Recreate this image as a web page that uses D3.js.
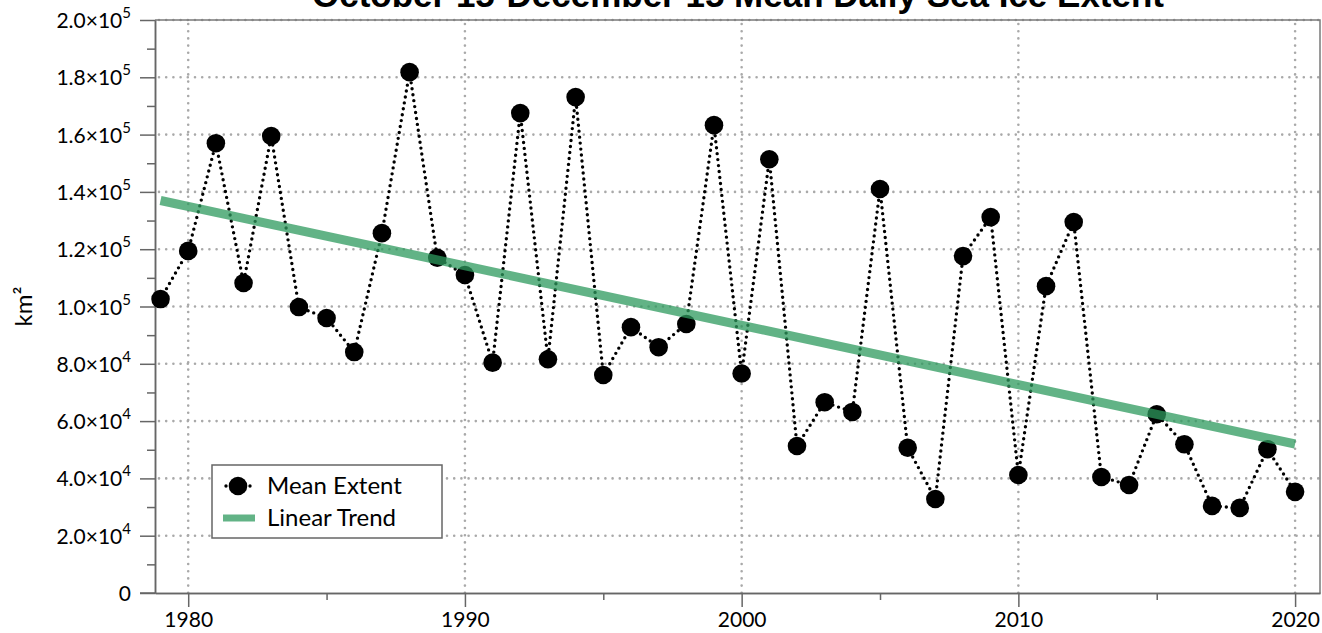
<!DOCTYPE html>
<html>
<head>
<meta charset="utf-8">
<script src="https://cdn.jsdelivr.net/npm/d3@7"></script>
<style>
    html, body { margin: 0; padding: 0; background: #ffffff; }
    svg { display: block; }
</style>
</head>
<body>
<div id="chart"></div>
<script>
const years = [
    1979, 1980, 1981, 1982, 1983, 1984, 1985, 1986, 1987, 1988,
    1989, 1990, 1991, 1992, 1993, 1994, 1995, 1996, 1997, 1998,
    1999, 2000, 2001, 2002, 2003, 2004, 2005, 2006, 2007, 2008,
    2009, 2010, 2011, 2012, 2013, 2014, 2015, 2016, 2017, 2018,
    2019, 2020,
]
const meanExtent = [
    102600, 119400, 157000, 108200, 159500, 99800, 96000, 84100, 125600, 181800,
    117000, 111000, 80400, 167500, 81600, 173100, 76100, 92800, 85800, 93900,
    163300, 76600, 151400, 51300, 66600, 63200, 141000, 50700, 32800, 117600,
    131200, 41200, 107100, 129500, 40500, 37700, 62400, 51900, 30400, 29700,
    50200, 35300,
]
const trendYears = [1979, 2020]
const trendValues = [137000, 52000]
const yTicks = [0, 20000, 40000, 60000, 80000, 100000, 120000, 140000, 160000, 180000, 200000]
const yMinorTicks = [10000, 30000, 50000, 70000, 90000, 110000, 130000, 150000, 170000, 190000]
const xTicks = [1980, 1990, 2000, 2010, 2020]
const xMinorTicks = [1985, 1995, 2005, 2015]
const legendLabels = ['Mean Extent', 'Linear Trend']
const titleText = 'October 15-December 15 Mean Daily Sea Ice Extent'
const yLabel = 'km²'

const WIDTH = 1322
const HEIGHT = 633
const MARGIN = { TOP: 20, RIGHT: 2, BOTTOM: 40, LEFT: 155 }
const LABEL_FONT = 'Lato, "Open Sans", sans-serif'
const TREND_COLOR = '#2e9a5e'
const AXIS_COLOR = '#666'

const svg = d3.select('#chart')
    .append('svg')
    .attr('width', WIDTH)
    .attr('height', HEIGHT)

const x = d3.scaleLinear()
    .domain([1978.8, 2020.9])
    .range([MARGIN.LEFT, WIDTH - MARGIN.RIGHT])

const y = d3.scaleLinear()
    .domain([0, 200000])
    .range([HEIGHT - MARGIN.BOTTOM, MARGIN.TOP])

// dotted grid
const grid = svg.append('g')
    .attr('stroke', '#a9a9a9')
    .attr('stroke-width', 2.6)
    .attr('stroke-linecap', 'round')
    .attr('stroke-dasharray', '0 7.2')

grid.selectAll('.hgrid')
    .data(yTicks.filter((d) => d > 0))
    .join('line')
    .attr('x1', MARGIN.LEFT + 4)
    .attr('x2', WIDTH - MARGIN.RIGHT)
    .attr('y1', (d) => y(d))
    .attr('y2', (d) => y(d))

grid.selectAll('.vgrid')
    .data(xTicks)
    .join('line')
    .attr('x1', (d) => x(d))
    .attr('x2', (d) => x(d))
    .attr('y1', MARGIN.TOP + 4)
    .attr('y2', HEIGHT - MARGIN.BOTTOM)

// frame (top and right)
svg.append('path')
    .attr('d', `M${MARGIN.LEFT},${MARGIN.TOP}H${WIDTH - MARGIN.RIGHT}V${HEIGHT - MARGIN.BOTTOM}`)
    .attr('fill', 'none')
    .attr('stroke', '#7a7a7a')
    .attr('stroke-width', 1.5)

// axes
const formatSci = (sel) => {
    sel.each(function (d) {
        const text = d3.select(this).text('')
        if (d === 0) {
            text.append('tspan').text('0')
            return
        }
        const exp = Math.floor(Math.log10(d))
        const mant = (d / Math.pow(10, exp)).toFixed(1)
        text.append('tspan').text(`${mant}×10`)
        text.append('tspan')
            .attr('dy', -10)
            .style('font-size', '15px')
            .text(exp)
    })
}

const yAxis = svg.append('g')
    .attr('transform', `translate(${MARGIN.LEFT},0)`)
    .call(d3.axisLeft(y).tickValues(yTicks).tickSize(15).tickPadding(9).tickSizeOuter(0))

yAxis.selectAll('text')
    .style('font-family', LABEL_FONT)
    .style('font-size', '21px')
    .attr('fill', '#000')
    .attr('dy', '0.36em')
    .call(formatSci)

svg.append('g')
    .attr('transform', `translate(${MARGIN.LEFT},0)`)
    .call(d3.axisLeft(y).tickValues(yMinorTicks).tickSize(8).tickFormat('').tickSizeOuter(0))

const xAxis = svg.append('g')
    .attr('transform', `translate(0,${HEIGHT - MARGIN.BOTTOM})`)
    .call(d3.axisBottom(x).tickValues(xTicks).tickSize(14).tickPadding(5).tickSizeOuter(0).tickFormat(d3.format('d')))

xAxis.selectAll('text')
    .style('font-family', LABEL_FONT)
    .style('font-size', '21px')
    .attr('fill', '#000')

svg.append('g')
    .attr('transform', `translate(0,${HEIGHT - MARGIN.BOTTOM})`)
    .call(d3.axisBottom(x).tickValues(xMinorTicks).tickSize(7).tickFormat('').tickSizeOuter(0))

svg.selectAll('.domain').attr('stroke', AXIS_COLOR).attr('stroke-width', 1.5)
svg.selectAll('.tick line').attr('stroke', AXIS_COLOR).attr('stroke-width', 1.5)

// bottom axis line runs on under the zero tick
svg.append('line')
    .attr('x1', MARGIN.LEFT - 15)
    .attr('x2', MARGIN.LEFT)
    .attr('y1', y(0))
    .attr('y2', y(0))
    .attr('stroke', AXIS_COLOR)
    .attr('stroke-width', 1.5)

// data
const points = years.map((yr, i) => ({ year: yr, value: meanExtent[i] }))

const line = d3.line()
    .x((d) => x(d.year))
    .y((d) => y(d.value))

svg.append('path')
    .datum(points)
    .attr('d', line)
    .attr('fill', 'none')
    .attr('stroke', '#000')
    .attr('stroke-width', 3.4)
    .attr('stroke-linecap', 'round')
    .attr('stroke-dasharray', '0 6')

svg.append('g')
    .selectAll('circle')
    .data(points)
    .join('circle')
    .attr('cx', (d) => x(d.year))
    .attr('cy', (d) => y(d.value))
    .attr('r', 9.3)
    .attr('fill', '#000')

const trend = trendYears.map((yr, i) => ({ year: yr, value: trendValues[i] }))

svg.append('path')
    .datum(trend)
    .attr('d', line)
    .attr('fill', 'none')
    .attr('stroke', TREND_COLOR)
    .attr('stroke-opacity', 0.75)
    .attr('stroke-width', 9)

// title (clipped at the top like the original)
svg.append('text')
    .attr('x', 738)
    .attr('y', 7)
    .attr('text-anchor', 'middle')
    .style('font-family', '"Liberation Sans", Arial, sans-serif')
    .style('font-weight', 'bold')
    .style('font-size', '35px')
    .text(titleText)

// y label
svg.append('text')
    .attr('transform', `translate(32,${y(100000)}) rotate(-90)`)
    .attr('text-anchor', 'middle')
    .style('font-family', LABEL_FONT)
    .style('font-size', '24px')
    .text(yLabel)

// legend
const legend = svg.append('g')
    .attr('transform', 'translate(212,465)')

legend.append('rect')
    .attr('width', 230)
    .attr('height', 73)
    .attr('fill', '#fff')
    .attr('stroke', AXIS_COLOR)
    .attr('stroke-width', 1.5)

legend.append('line')
    .attr('x1', 14)
    .attr('x2', 40)
    .attr('y1', 21)
    .attr('y2', 21)
    .attr('stroke', '#000')
    .attr('stroke-width', 3.4)
    .attr('stroke-linecap', 'round')
    .attr('stroke-dasharray', '0 6')

legend.append('circle')
    .attr('cx', 26)
    .attr('cy', 21)
    .attr('r', 9.3)
    .attr('fill', '#000')

legend.append('line')
    .attr('x1', 11)
    .attr('x2', 43)
    .attr('y1', 53)
    .attr('y2', 53)
    .attr('stroke', TREND_COLOR)
    .attr('stroke-opacity', 0.75)
    .attr('stroke-width', 7)

legend.selectAll('.label')
    .data(legendLabels)
    .join('text')
    .attr('x', 55)
    .attr('y', (d, i) => 29 + i * 32)
    .style('font-family', LABEL_FONT)
    .style('font-size', '24px')
    .attr('fill', '#000')
    .text((d) => d)
</script>
</body>
</html>
